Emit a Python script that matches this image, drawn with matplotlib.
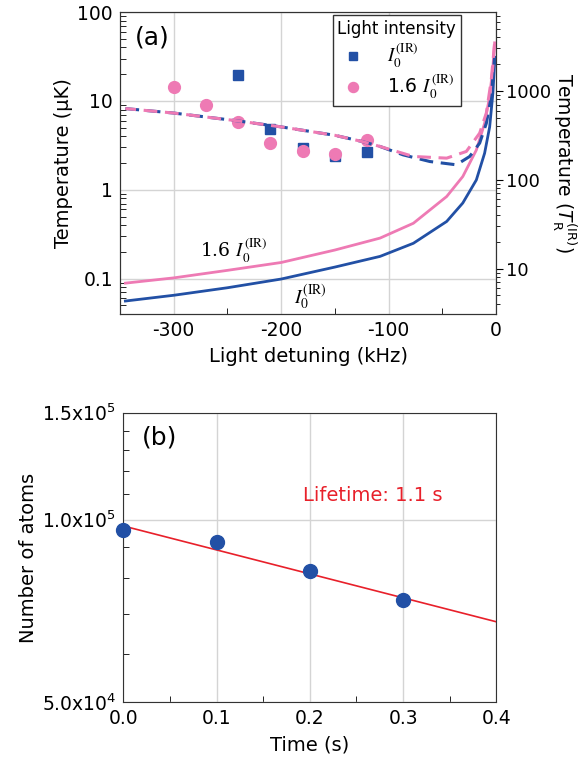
import numpy as np
import matplotlib
matplotlib.use("Agg")
import matplotlib.pyplot as plt
from matplotlib.ticker import FixedLocator, NullFormatter, LogLocator, FuncFormatter

plt.rcParams['font.family'] = ['DejaVu Sans']
plt.rcParams['mathtext.fontset'] = 'dejavusans'
plt.rcParams['axes.unicode_minus'] = False

BLUE = '#2250a5'
PINK = '#ee7ab4'
RED = '#e8202a'
GRID = '#d4d4d4'
EDGE = '#333333'
TICK_FS = 13.5
LABEL_FS = 14

# ---- (a) temperature vs detuning ----
# measured points
det_sq = [-240, -210, -180, -150, -120]
temp_sq = [19.6, 4.8, 2.97, 2.37, 2.67]
det_circ = [-300, -270, -240, -210, -180, -150, -120]
temp_circ = [14.5, 9.1, 5.85, 3.4, 2.74, 2.54, 3.64]

# theory, solid curves
det_sol_b = [-345, -300, -250, -200, -150, -108, -77, -46, -31, -18.4, -10.7, -6, -3, -1.1]
temp_sol_b = [0.056, 0.065, 0.079, 0.099, 0.135, 0.178, 0.25, 0.44, 0.71, 1.29, 2.58, 5.1, 12.2, 31]
det_sol_p = [-345, -300, -250, -200, -150, -108, -77, -46, -31, -18.4, -10.7, -6, -3, -1.4]
temp_sol_p = [0.089, 0.102, 0.124, 0.152, 0.21, 0.286, 0.42, 0.84, 1.41, 2.8, 5.6, 11.2, 24, 45]

# theory, dashed curves
det_dash_b = [-345, -300, -240, -200, -150, -125, -108, -86.5, -61.7, -37, -24.6, -15.3, -9.1, -4.5, -1.4]
temp_dash_b = [8.2, 7.3, 5.95, 5.1, 4.1, 3.5, 3.07, 2.47, 2.08, 1.91, 2.37, 3.35, 5.6, 11.2, 31]
det_dash_p = [-345, -300, -240, -200, -150, -125, -108, -77, -46, -27.7, -15.3, -9.1, -4.5, -1.4]
temp_dash_p = [8.2, 7.3, 5.95, 5.1, 4.1, 3.5, 3.07, 2.37, 2.27, 2.7, 4.34, 7.3, 17.2, 45]

TR_PER_UK = 77.0  # recoil temperature units per microkelvin

# ---- (b) atom number decay ----
t_s = [0.0, 0.1, 0.2, 0.3]
n_atoms = [0.960e5, 0.919e5, 0.824e5, 0.737e5]
n0_fit = 0.976e5
lifetime = 1.1

fig = plt.figure(figsize=(5.84, 7.67), dpi=100)

ax = fig.add_axes([0.2055, 0.5906, 0.644, 0.3937])
ax.set_yscale('log')
ax.set_xlim(-350, 0)
ax.set_ylim(0.04, 100)

ax.plot(det_sol_b, temp_sol_b, color=BLUE, lw=2.0, zorder=3)
ax.plot(det_sol_p, temp_sol_p, color=PINK, lw=2.0, zorder=3)
ax.plot(det_sq, temp_sq, 's', color=BLUE, ms=7.5, zorder=2, label=r'$I_0^{\mathrm{(IR)}}$')
ax.plot(det_circ, temp_circ, 'o', color=PINK, ms=8.5, zorder=2, label=r'1.6 $I_0^{\mathrm{(IR)}}$')
ax.plot(det_dash_b, temp_dash_b, color=BLUE, lw=2.2, linestyle=(0, (4.5, 2.5)), zorder=4)
ax.plot(det_dash_p, temp_dash_p, color=PINK, lw=2.2, linestyle=(1.0, (4.5, 2.5)), zorder=5)

ax.set_xticks([-300, -200, -100, 0])
ax.xaxis.set_minor_locator(FixedLocator([-250, -150, -50]))
ax.set_yticks([0.1, 1, 10, 100])
ax.set_yticklabels(['0.1', '1', '10', '100'])
ax.yaxis.set_minor_locator(LogLocator(base=10, subs=np.arange(2, 10)))
ax.yaxis.set_minor_formatter(NullFormatter())
ax.grid(True, which='major', color=GRID, lw=1.0)
ax.tick_params(which='both', direction='in', labelsize=TICK_FS, right=False, top=False)
ax.tick_params(which='major', length=0, pad=5)
ax.tick_params(axis='y', which='minor', length=4)
ax.tick_params(axis='x', which='minor', length=4)
ax.set_xlabel('Light detuning (kHz)', fontsize=LABEL_FS, labelpad=5)
ax.set_ylabel('Temperature (\u03bcK)', fontsize=LABEL_FS, labelpad=3)
for s in ax.spines.values():
    s.set_color(EDGE)

ax.text(0.04, 0.955, '(a)', transform=ax.transAxes, fontsize=18, va='top', ha='left')
ax.text(-276, 0.172, r'1.6 $I_0^{\mathrm{(IR)}}$', fontsize=13.5, family='DejaVu Serif',
        math_fontfamily='stix')
ax.text(-188, 0.052, r'$I_0^{\mathrm{(IR)}}$', fontsize=14, math_fontfamily='stix')

leg = ax.legend(title='Light intensity', loc='upper left', bbox_to_anchor=(0.565, 0.99),
                fontsize=13.5, title_fontsize=12, frameon=True, fancybox=False,
                edgecolor=EDGE, framealpha=1, borderpad=0.25, handletextpad=1.0,
                labelspacing=0.2, handlelength=1.6, borderaxespad=0.0,
                markerscale=0.85)
leg.get_frame().set_linewidth(1.0)
for t in leg.get_texts():
    t.set_math_fontfamily('stix')

axr = ax.twinx()
axr.set_yscale('log')
axr.set_ylim(0.04 * TR_PER_UK, 100 * TR_PER_UK)
axr.set_yticks([10, 100, 1000])
axr.set_yticklabels(['10', '100', '1000'])
axr.yaxis.set_minor_locator(LogLocator(base=10, subs=np.arange(2, 10)))
axr.yaxis.set_minor_formatter(NullFormatter())
axr.tick_params(which='both', direction='out', labelsize=13)
axr.tick_params(which='major', length=5, pad=2)
axr.tick_params(which='minor', length=3)
axr.set_ylabel(r'Temperature ($T_{\mathrm{R}}^{\mathrm{(IR)}}$)', fontsize=13.5,
               rotation=270, labelpad=20)
for s in axr.spines.values():
    s.set_color(EDGE)

# ---- (b) ----
bx = fig.add_axes([0.211, 0.0844, 0.639, 0.3776])
bx.set_yscale('log')
bx.set_xlim(0, 0.4)
bx.set_ylim(5e4, 1.5e5)
t_line = np.linspace(0, 0.4, 50)
bx.plot(t_line, n0_fit * np.exp(-t_line / lifetime), color=RED, lw=1.2, zorder=2)
bx.plot(t_s, n_atoms, 'o', color=BLUE, ms=10, zorder=3, clip_on=False)
bx.set_xticks([0.0, 0.1, 0.2, 0.3, 0.4])
bx.set_xticklabels(['0.0', '0.1', '0.2', '0.3', '0.4'])
bx.xaxis.set_minor_locator(FixedLocator([0.05, 0.15, 0.25, 0.35]))
bx.yaxis.set_major_locator(FixedLocator([5e4, 1e5, 1.5e5]))
bx.yaxis.set_major_formatter(FuncFormatter(
    lambda v, p: {5e4: r'5.0x10$^4$', 1e5: r'1.0x10$^5$', 1.5e5: r'1.5x10$^5$'}.get(v, '')))
bx.yaxis.set_minor_locator(FixedLocator([6e4, 7e4, 8e4, 9e4, 1.1e5, 1.2e5, 1.3e5, 1.4e5]))
bx.yaxis.set_minor_formatter(NullFormatter())
bx.grid(True, which='major', color=GRID, lw=1.0)
bx.tick_params(which='both', direction='in', labelsize=TICK_FS)
bx.tick_params(which='major', length=0, pad=5)
bx.tick_params(which='minor', length=4)
bx.set_xlabel('Time (s)', fontsize=LABEL_FS, labelpad=5)
bx.set_ylabel('Number of atoms', fontsize=LABEL_FS, labelpad=3)
for s in bx.spines.values():
    s.set_color(EDGE)
bx.text(0.05, 0.955, '(b)', transform=bx.transAxes, fontsize=18, va='top', ha='left')
bx.text(0.193, 1.096e5, 'Lifetime: 1.1 s', color=RED, fontsize=14, va='center', ha='left')

fig.savefig('out.png', dpi=100)
